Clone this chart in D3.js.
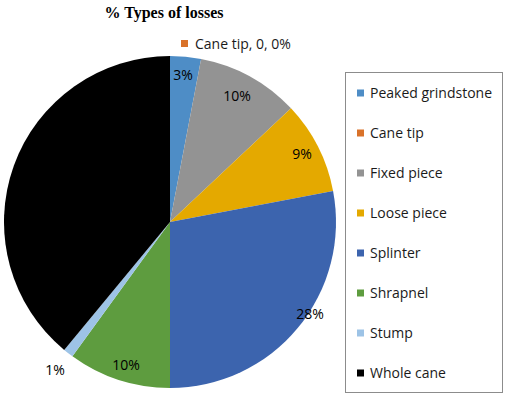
<!DOCTYPE html>
<html>
<head>
<meta charset="utf-8">
<script src="https://cdn.jsdelivr.net/npm/d3@7"></script>
<style>
  body { margin: 0; background: #fff; }
  svg text { font-family: "Open Sans", "Liberation Sans", sans-serif; }
</style>
</head>
<body>
<div id="chart"></div>
<script>
const categories = ["Peaked grindstone", "Cane tip", "Fixed piece", "Loose piece", "Splinter", "Shrapnel", "Stump", "Whole cane"];
const values = [3, 0, 10, 9, 28, 10, 1, 39];
const colors = ["#4E8DC6", "#D9722A", "#939393", "#E4A900", "#3C64AE", "#5E9C3F", "#9DC3E6", "#000000"];

const width = 505, height = 398;
const cx = 170, cy = 222, r = 166;

const svg = d3.select("#chart").append("svg")
  .attr("width", width)
  .attr("height", height);

const data = categories.map((c, i) => ({ name: c, value: values[i], color: colors[i] }));
const total = d3.sum(values);

const pie = d3.pie().sort(null).value(d => d.value);
const arc = d3.arc().innerRadius(0).outerRadius(r);
const arcs = pie(data);

const g = svg.append("g").attr("transform", `translate(${cx},${cy})`);

g.selectAll("path")
  .data(arcs)
  .enter()
  .append("path")
  .attr("d", arc)
  .attr("fill", d => d.data.color);

// percentage labels (whole cane label is black on black, as in the original)
const labelArc = d3.arc().innerRadius(r * 0.8).outerRadius(r * 0.8);
const pct = v => Math.round(v / total * 100) + "%";
const labelPos = {
  "Peaked grindstone": [13, -147],
  "Fixed piece": [67, -126],
  "Loose piece": [132, -68],
  "Splinter": [140, 92],
  "Shrapnel": [-44, 143],
  "Stump": [-115, 148]
};

arcs.forEach(d => {
  if (d.data.value === 0) return;
  const p = labelPos[d.data.name] || labelArc.centroid(d);
  g.append("text")
    .attr("x", p[0])
    .attr("y", p[1])
    .attr("dy", "0.35em")
    .attr("font-size", 14)
    .attr("fill", "#000")
    .style("text-anchor", "middle")
    .text(pct(d.data.value));
});

// zero slice label at top
const zero = arcs.find(d => d.data.value === 0);
svg.append("rect")
  .attr("x", 181).attr("y", 40)
  .attr("width", 7).attr("height", 7)
  .attr("fill", zero.data.color);
svg.append("text")
  .attr("x", 195).attr("y", 44)
  .attr("dy", "0.35em")
  .attr("font-size", 14)
  .attr("fill", "#1a1a1a")
  .text(`${zero.data.name}, ${zero.data.value}, ${pct(zero.data.value)}`);

// title
svg.append("text")
  .attr("x", 164).attr("y", 12)
  .attr("dy", "0.35em")
  .style("font-family", "'Liberation Serif', serif")
  .attr("font-size", 16)
  .attr("font-weight", "bold")
  .style("text-anchor", "middle")
  .text("% Types of losses");

// legend
const legend = svg.append("g");
legend.append("rect")
  .attr("x", 345.5).attr("y", 72.5)
  .attr("width", 157).attr("height", 320)
  .attr("fill", "none")
  .attr("stroke", "#8c8c8c");

const ly = d3.scalePoint().domain(categories).range([93, 373]);
categories.forEach((c, i) => {
  legend.append("rect")
    .attr("x", 357).attr("y", ly(c) - 3.5)
    .attr("width", 7).attr("height", 7)
    .attr("fill", colors[i]);
  legend.append("text")
    .attr("x", 370).attr("y", ly(c))
    .attr("dy", "0.35em")
    .attr("font-size", 14)
    .attr("fill", "#1a1a1a")
    .text(c);
});
</script>
</body>
</html>
